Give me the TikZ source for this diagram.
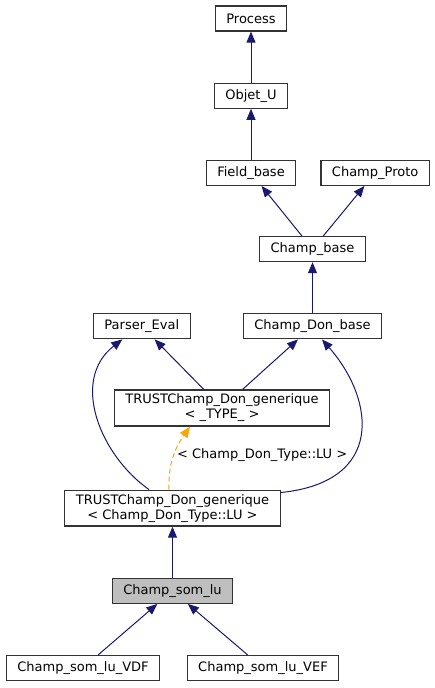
\documentclass[tikz,border=0pt]{standalone}
\usepackage{fontspec}
\setmainfont{DejaVu Sans}
\usepackage{tikz}
\usetikzlibrary{arrows.meta}
\usetikzlibrary{positioning}
\definecolor{edgeblue}{HTML}{191970}
\definecolor{tmplorange}{HTML}{FFA500}
\tikzstyle{every node}+=[inner sep=0pt]
\tikzstyle{block} = [rectangle, draw=black!80, line width=1.2pt, font=\fontsize{13pt}{15pt}\selectfont, align=center, inner xsep=11pt, inner ysep=4pt, minimum height=25pt]
\tikzstyle{line} = [draw=edgeblue, line width=1pt, -{Triangle[length=11pt, width=9pt]}]
\tikzstyle{tmpl} = [draw=tmplorange, line width=1pt, dash pattern=on 5pt off 3pt, -{Triangle[length=11pt, width=9pt]}]

\begin{document}
\begin{tikzpicture}[x=1pt, y=1pt]
            \useasboundingbox (0,0) rectangle (435,-688);
            % Place nodes
            \node [block] (process) at (251,-18.5) {Process};
            \node [block, below=51pt of process] (objet) {Objet\_U};
            \node [block, below=51pt of objet] (field) {Field\_base};
            \node [block, right=24pt of field] (proto) {Champ\_Proto};
            \node [block, below=50pt of field, xshift=61.5pt] (champbase) {Champ\_base};
            \node [block, below=51pt of champbase] (donbase) {Champ\_Don\_base};
            \node [block, left=52pt of donbase] (parser) {Parser\_Eval};
            \node [block, below=50pt of donbase, xshift=-90.5pt] (gen) {TRUSTChamp\_Don\_generique\\< \_TYPE\_ >};
            \node [block, below=63pt of gen, xshift=-49.5pt] (genlu) {TRUSTChamp\_Don\_generique\\< Champ\_Don\_Type::LU >};
            \node [block, fill=black!25, below=51pt of genlu] (somlu) {Champ\_som\_lu};
            \node [block, below=51pt of somlu, xshift=-89.5pt] (vdf) {Champ\_som\_lu\_VDF};
            \node [block, below=51pt of somlu, xshift=90.5pt] (vef) {Champ\_som\_lu\_VEF};
            % Draw edges
            \path [line] (objet) -- (process);
            \path [line] (field) -- (objet);
            \path [line] (champbase) -- (field);
            \path [line] (champbase) -- (proto);
            \path [line] (donbase) -- (champbase);
            \path [line] (gen) -- (parser);
            \path [line] (gen) -- (donbase);
            \path [line] ([xshift=-23.5pt]genlu.north) .. controls (100,-455) and (70,-380) .. ([xshift=-19.5pt]parser.south);
            \path [line] ([yshift=-3pt]genlu.north east) .. controls (385,-482) and (375,-400) .. ([xshift=9.5pt]donbase.south);
            \path [tmpl] ([xshift=-3.5pt]genlu.north) to[out=92, in=-125] node [right, font=\fontsize{13pt}{15pt}\selectfont, xshift=3pt, yshift=1pt] {< Champ\_Don\_Type::LU >} ([xshift=-32pt]gen.south);
            \path [line] (somlu) -- (genlu);
            \path [line] (vdf) -- (somlu);
            \path [line] (vef) -- (somlu);
\end{tikzpicture}
\end{document}
